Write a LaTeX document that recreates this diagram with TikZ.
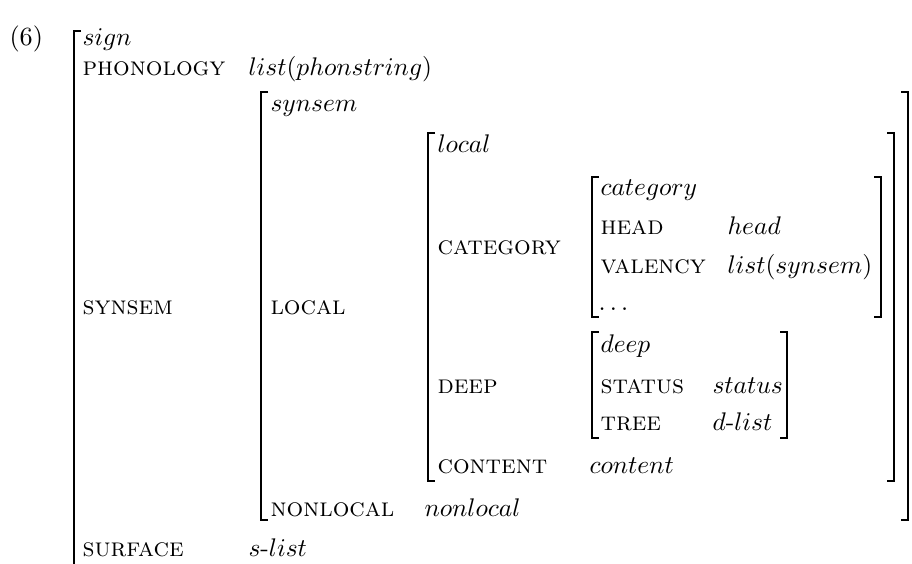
\documentclass[tikz,border=0pt]{standalone}
\tikzset{
  brk/.style={line width=2.4pt},
  fname/.style={anchor=base west, inner sep=0pt, font=\scshape, scale=2.62},
  fval/.style={anchor=base west, inner sep=0pt, scale=2.55, execute at begin node=$, execute at end node=$},
  plain/.style={anchor=base west, inner sep=0pt, scale=2.62},
}
\newcommand{\lbrk}[3]{\draw[brk] (#1+7,#2) -- (#1,#2) -- (#1,#3) -- (#1+7,#3);}
\newcommand{\rbrk}[3]{\draw[brk] (#1-7,#2) -- (#1,#2) -- (#1,#3) -- (#1-7,#3);}
\begin{document}
\begin{tikzpicture}[x=1pt,y=-1pt]
\useasboundingbox (0,0) rectangle (912,563);
% label
\node[plain] (ex) at (9,45) {(6)};
% sign
\draw[brk] (81,31) -- (74,31) -- (74,575);
\node[fval] (sign) at (82,45) {sign};
\node[fname] (phon) at (82,75) {phonology};
\node[fval] (phonv) at (248,75) {list(phonstring)};
\node[fname] (synsemf) at (82,314) {synsem};
\node[fname] (surf) at (82,556) {surface};
\node[fval] (surfv) at (248,556) {s\mbox{-}list};
% synsem
\lbrk{261}{92}{520}
\rbrk{908}{92}{520}
\node[fval] (synsem) at (270,111) {synsem};
\node[fname] (localf) at (270,314) {local};
\node[fname] (nonlocf) at (270,516) {nonlocal};
\node[fval] (nonlocv) at (424,516) {nonlocal};
% local
\lbrk{428}{133}{481}
\rbrk{894}{133}{481}
\node[fval] (local) at (437,152) {local};
\node[fname] (catf) at (437,254) {category};
\node[fname] (deepf) at (437,393) {deep};
\node[fname] (contf) at (437,473) {content};
\node[fval] (contv) at (589,473) {content};
% category
\lbrk{592}{177}{317}
\rbrk{881}{177}{317}
\node[fval] (cat) at (600,195) {category};
\node[fname] (headf) at (600,234) {head};
\node[fval] (headv) at (727,234) {head};
\node[fname] (valf) at (600,273) {valency};
\node[fval] (valv) at (727,273) {list(synsem)};
\node[fval] (dots) at (598,310) {\ldots};
% deep
\lbrk{592}{332}{438}
\rbrk{787}{332}{438}
\node[fval] (deep) at (600,352) {deep};
\node[fname] (statf) at (600,393) {status};
\node[fval] (statv) at (712,393) {status};
\node[fname] (treef) at (600,430) {tree};
\node[fval] (treev) at (712,430) {d\mbox{-}list};
\end{tikzpicture}
\end{document}
